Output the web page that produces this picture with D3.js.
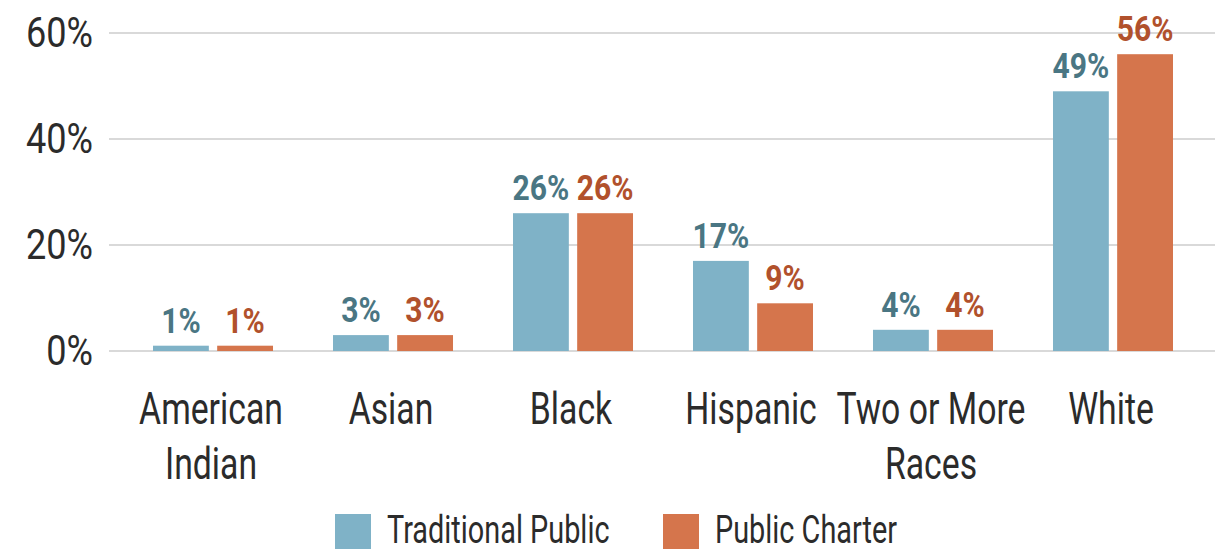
<!DOCTYPE html>
<html>
<head>
<meta charset="utf-8">
<script src="https://cdn.jsdelivr.net/npm/d3@7"></script>
<style>
  body { margin: 0; background: #fff; }
  text { font-family: Roboto, "DejaVu Sans", sans-serif; }
</style>
</head>
<body>
<div id="chart"></div>
<script>
// categories and values
var categories = [["American", "Indian"], ["Asian"], ["Black"], ["Hispanic"], ["Two or More", "Races"], ["White"]]
var seriesNames = ["Traditional Public", "Public Charter"]
var traditional = [1, 3, 26, 17, 4, 49]
var charter = [1, 3, 26, 9, 4, 56]
var yTicks = [0, 20, 40, 60]

var barColors = ["#7fb2c7", "#d5754c"]
var labelColors = ["#4a7683", "#b1512c"]

var width = 1230, height = 553

var svg = d3.select("#chart")
  .append("svg")
  .attr("width", width)
  .attr("height", height)

// text squeezed horizontally to mimic the condensed face of the original
function squeezed(sel, sx) {
  return sel.append("text").attr("transform", "scale(" + sx + ",1)")
}

var x = d3.scaleBand()
  .domain(d3.range(categories.length))
  .range([123, 1203])
  .paddingInner(0.3333)
  .paddingOuter(0.1667)

var xInner = d3.scaleBand()
  .domain([0, 1])
  .range([0, x.bandwidth()])
  .paddingInner(0.13)

var y = d3.scaleLinear()
  .domain([0, 60])
  .range([351, 33])

// gridlines
svg.append("g")
  .selectAll("line")
  .data(yTicks)
  .enter()
  .append("line")
  .attr("x1", 109)
  .attr("x2", 1215)
  .attr("y1", d => y(d))
  .attr("y2", d => y(d))
  .attr("stroke", "#d9d9d9")
  .attr("stroke-width", 2)

// y tick labels
var tickG = svg.append("g")
  .selectAll("g")
  .data(yTicks)
  .enter()
  .append("g")
  .attr("transform", d => "translate(93," + (y(d) + 14) + ")")

squeezed(tickG, 0.86)
  .attr("text-anchor", "end")
  .attr("font-size", 42)
  .attr("fill", "#2b2b2b")
  .text(d => d + "%")

var rows = categories.map((c, i) => [traditional[i], charter[i]])

var groups = svg.append("g")
  .selectAll("g")
  .data(rows)
  .enter()
  .append("g")
  .attr("transform", (d, i) => "translate(" + x(i) + ",0)")

groups.selectAll("rect")
  .data(d => d)
  .enter()
  .append("rect")
  .attr("x", (d, j) => xInner(j))
  .attr("width", xInner.bandwidth())
  .attr("y", d => y(d))
  .attr("height", d => y(0) - y(d))
  .attr("fill", (d, j) => barColors[j])

var valG = groups.selectAll("g")
  .data(d => d)
  .enter()
  .append("g")
  .attr("transform", (d, j) => "translate(" + (xInner(j) + xInner.bandwidth() / 2) + "," + (y(d) - 13) + ")")

squeezed(valG, 0.86)
  .attr("text-anchor", "middle")
  .attr("font-size", 35)
  .attr("font-weight", "bold")
  .attr("fill", (d, j) => labelColors[j])
  .text(d => d + "%")

// category labels
var catG = svg.append("g")
  .selectAll("g")
  .data(categories)
  .enter()
  .append("g")
  .attr("transform", (d, i) => "translate(" + (x(i) + x.bandwidth() / 2 - 2) + ",424)")

squeezed(catG, 0.75)
  .attr("text-anchor", "middle")
  .attr("font-size", 45)
  .attr("fill", "#2b2b2b")
  .selectAll("tspan")
  .data(d => d)
  .enter()
  .append("tspan")
  .attr("x", 0)
  .attr("dy", (d, k) => k === 0 ? 0 : 55)
  .text(d => d)

// legend
var legendX = [335, 663]
var legend = svg.append("g")
  .selectAll("g")
  .data(seriesNames)
  .enter()
  .append("g")
  .attr("transform", (d, i) => "translate(" + legendX[i] + ",514)")

legend.append("rect")
  .attr("width", 36)
  .attr("height", 35)
  .attr("fill", (d, i) => barColors[i])

var legendText = legend.append("g")
  .attr("transform", "translate(52,29)")

squeezed(legendText, 0.74)
  .attr("font-size", 39)
  .attr("fill", "#2b2b2b")
  .text(d => d)
</script>
</body>
</html>
